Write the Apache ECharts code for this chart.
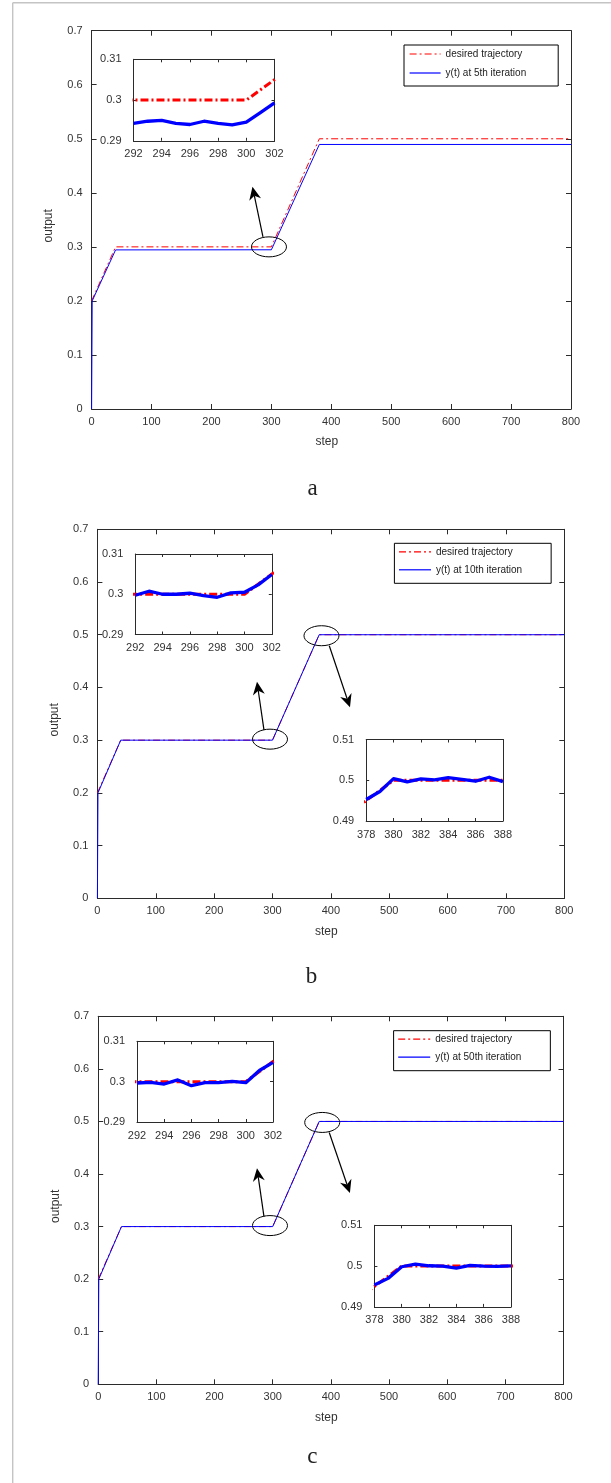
<!DOCTYPE html>
<html><head><meta charset="utf-8">
<script src="https://cdn.jsdelivr.net/npm/echarts@6/dist/echarts.min.js"></script>
<style>html,body{margin:0;padding:0;background:#fff}#c{width:611px;height:1483px}</style>
</head><body><div id="c"></div>
<script>
// ---------------- data ----------------
const desiredSteps  = [0, 40, 300, 380, 800];
const desiredValues = [0.2, 0.3, 0.3, 0.5, 0.5];

const iter5Steps  = [0, 1, 40, 300, 380, 800];
const iter5Values = [0, 0.2, 0.2944, 0.2946, 0.4895, 0.4895];
const iter10Steps  = [0, 1, 40, 300, 380, 800];
const iter10Values = [0, 0.2, 0.3, 0.3, 0.5, 0.5];
const iter50Steps  = [0, 1, 40, 300, 380, 800];
const iter50Values = [0, 0.2, 0.3, 0.3, 0.5, 0.5];

const zoomSteps300 = [292, 293, 294, 295, 296, 297, 298, 299, 300, 301, 302];
const zoomSteps380 = [378, 379, 380, 381, 382, 383, 384, 385, 386, 387, 388];
const iter5Zoom300  = [0.2943, 0.2948, 0.2950, 0.2943, 0.2940, 0.2948, 0.2943, 0.2939, 0.2946, 0.2969, 0.2993];
const iter10Zoom300 = [0.29975, 0.30075, 0.3000, 0.3000, 0.30025, 0.29967, 0.29925, 0.30033, 0.3005, 0.30232, 0.3049];
const iter10Zoom380 = [0.49528, 0.49724, 0.50041, 0.49959, 0.50033, 0.50008, 0.50065, 0.50024, 0.49976, 0.50073, 0.49967];
const iter50Zoom300 = [0.29967, 0.29983, 0.29941, 0.30042, 0.2990, 0.29975, 0.29975, 0.30008, 0.29975, 0.30276, 0.30477];
const iter50Zoom380 = [0.49537, 0.49699, 0.49984, 0.50049, 0.50008, 0.5000, 0.49951, 0.50016, 0.5000, 0.49992, 0.50008];

const legendNames = ['desired trajectory', 'y(t) at 5th iteration', 'y(t) at 10th iteration', 'y(t) at 50th iteration'];
const captions = ['a', 'b', 'c'];

// ---------------- helpers ----------------
const FONT = '"Liberation Sans", Arial, sans-serif';
const AX = '#2b2b2b';
const RED = '#ff0000', BLUE = '#0000ff';
const pairs = (xs, ys) => xs.map((x, i) => [x, ys[i]]);

const grids = [], xAxes = [], yAxes = [], series = [];

function addGrid(rect, xr, yr, o) {
  const gi = grids.length;
  grids.push({left: rect[0], top: rect[1], width: rect[2], height: rect[3],
              show: true, backgroundColor: '#fff', borderWidth: 0});
  const ls = {color: AX, width: 1};
  const tick = {show: true, inside: true, length: o.tick, lineStyle: ls};
  const lab = {fontSize: 11, color: '#333', fontFamily: FONT};
  const xi = xAxes.length, yi = yAxes.length;
  xAxes.push({gridIndex: gi, type: 'value', position: 'bottom', min: xr[0], max: xr[1], interval: xr[2],
    axisLine: {show: true, onZero: false, lineStyle: ls}, axisTick: tick, splitLine: {show: false},
    axisLabel: Object.assign({margin: o.xm}, lab),
    name: o.xname || '', nameLocation: 'middle', nameGap: 27,
    nameTextStyle: {fontSize: 12, color: '#333', fontFamily: FONT, padding: [0, 9, 0, 0]}});
  xAxes.push({gridIndex: gi, type: 'value', position: 'top', min: xr[0], max: xr[1], interval: xr[2],
    axisLine: {show: true, onZero: false, lineStyle: ls}, axisTick: tick, splitLine: {show: false},
    axisLabel: {show: false}});
  yAxes.push({gridIndex: gi, type: 'value', position: 'left', min: yr[0], max: yr[1], interval: yr[2],
    axisLine: {show: true, onZero: false, lineStyle: ls}, axisTick: tick, splitLine: {show: false},
    axisLabel: Object.assign({margin: o.ym}, lab),
    name: o.yname || '', nameLocation: 'middle', nameGap: 37,
    nameTextStyle: {fontSize: 12, color: '#333', fontFamily: FONT, padding: [0, 12, 0, 0]}});
  yAxes.push({gridIndex: gi, type: 'value', position: 'right', min: yr[0], max: yr[1], interval: yr[2],
    axisLine: {show: true, onZero: false, lineStyle: ls}, axisTick: tick, splitLine: {show: false},
    axisLabel: {show: false}});
  return {xi, yi};
}

function line(name, ax, data, color, width, dash, z) {
  series.push({type: 'line', name, xAxisIndex: ax.xi, yAxisIndex: ax.yi, data,
    symbol: 'none', showSymbol: false, clip: true, animation: false, z: z,
    lineStyle: {color, width, type: dash || 'solid', cap: 'butt', join: 'round'},
    itemStyle: {color}});
}

const mainOpt = {tick: 5, xm: 7, ym: 9, xname: 'step', yname: 'output'};
const insetOpt = {tick: 3, xm: 8, ym: 12};

// panel a
const aMain = addGrid([91.6, 30.7, 479.4, 378.3], [0, 800, 100], [0, 0.7, 0.1], mainOpt);
const aIn1  = addGrid([133.5, 59.3, 141, 81.5], [292, 302, 2], [0.29, 0.31, 0.01], insetOpt);
// panel b
const bMain = addGrid([97.4, 529.3, 466.9, 369], [0, 800, 100], [0, 0.7, 0.1], mainOpt);
const bIn1  = addGrid([135.3, 554, 136.5, 80.5], [292, 302, 2], [0.29, 0.31, 0.01], insetOpt);
const bIn2  = addGrid([366.2, 739.5, 136.7, 81.5], [378, 388, 2], [0.49, 0.51, 0.01], insetOpt);
// panel c
const cMain = addGrid([98.2, 1016.3, 465.3, 368], [0, 800, 100], [0, 0.7, 0.1], mainOpt);
const cIn1  = addGrid([137, 1041.3, 136, 80.7], [292, 302, 2], [0.29, 0.31, 0.01], insetOpt);
const cIn2  = addGrid([374.4, 1225.3, 136.6, 81.6], [378, 388, 2], [0.49, 0.51, 0.01], insetOpt);

const DD_MAIN = [7, 3, 2, 3];
const DD_IN = [8, 3, 2, 3];
const desired = pairs(desiredSteps, desiredValues);

// main series first (legend picks first matching series)
line(legendNames[0], aMain, desired, RED, 1, DD_MAIN, 2);
line(legendNames[1], aMain, pairs(iter5Steps, iter5Values), BLUE, 1, null, 3);
line(legendNames[0], bMain, desired, RED, 1, DD_MAIN, 2);
line(legendNames[2], bMain, pairs(iter10Steps, iter10Values), BLUE, 1, null, 3);
line(legendNames[0], cMain, desired, RED, 1, DD_MAIN, 2);
line(legendNames[3], cMain, pairs(iter50Steps, iter50Values), BLUE, 1, null, 3);
// insets
line('zoom a desired', aIn1, desired, RED, 3, DD_IN, 4);
line('zoom a y', aIn1, pairs(zoomSteps300, iter5Zoom300), BLUE, 3.3, null, 5);
line('zoom b1 desired', bIn1, desired, RED, 3, DD_IN, 4);
line('zoom b1 y', bIn1, pairs(zoomSteps300, iter10Zoom300), BLUE, 3.3, null, 5);
line('zoom b2 desired', bIn2, desired, RED, 3, DD_IN, 4);
line('zoom b2 y', bIn2, pairs(zoomSteps380, iter10Zoom380), BLUE, 3.3, null, 5);
line('zoom c1 desired', cIn1, desired, RED, 3, DD_IN, 4);
line('zoom c1 y', cIn1, pairs(zoomSteps300, iter50Zoom300), BLUE, 3.3, null, 5);
line('zoom c2 desired', cIn2, desired, RED, 3, DD_IN, 4);
line('zoom c2 y', cIn2, pairs(zoomSteps380, iter50Zoom380), BLUE, 3.3, null, 5);

function legend(names, left, top, padding, iw, gap) {
  return {data: names, orient: 'vertical', left, top, padding, itemWidth: iw, itemHeight: 10, itemGap: gap,
    borderColor: '#000', borderWidth: 1, backgroundColor: '#fff', selectedMode: false,
    itemStyle: {color: 'rgba(0,0,0,0)', borderColor: 'rgba(0,0,0,0)', borderWidth: 0, opacity: 0},
    lineStyle: {width: 1.2},
    textStyle: {fontSize: 10, color: '#222', fontFamily: FONT}};
}

const chart = echarts.init(document.getElementById('c'), null, {renderer: 'canvas'});
chart.setOption({
  animation: false,
  backgroundColor: '#fff',
  grid: grids, xAxis: xAxes, yAxis: yAxes, series,
  legend: [
    legend([legendNames[0], legendNames[1]], 404, 45, [4, 32, 8, 5], 31, 9),
    legend([legendNames[0], legendNames[2]], 394.4, 543.3, [3.5, 29, 8.5, 4], 32, 8),
    legend([legendNames[0], legendNames[3]], 393.6, 1030.7, [3.5, 29, 8.5, 4], 32, 8)
  ]
});

// ------------- annotations anchored to data points -------------
const callouts = [
  {ax: aMain, at: [300, 0.3], d: [-2.4, 0],  from: [-6, -10], to: [-16.5, -60]},
  {ax: bMain, at: [300, 0.3], d: [-2.5, -1], from: [-6, -9],  to: [-13, -57.3]},
  {ax: bMain, at: [380, 0.5], d: [2.3, 1],   from: [7.8, 10], to: [28.5, 71.6]},
  {ax: cMain, at: [300, 0.3], d: [-2.7, -1], from: [-6, -9],  to: [-13, -57.4]},
  {ax: cMain, at: [380, 0.5], d: [3, 1],     from: [7, 10],   to: [27.7, 70.6]}
];
const gfx = [];
// page frame lines
gfx.push({type: 'line', shape: {x1: 12.7, y1: 2.7, x2: 12.7, y2: 1483}, style: {stroke: '#c4c4c4', lineWidth: 1.4}, z: 1});
gfx.push({type: 'line', shape: {x1: 12.7, y1: 2.7, x2: 611, y2: 2.7}, style: {stroke: '#c4c4c4', lineWidth: 1.4}, z: 1});

callouts.forEach(c => {
  const p = chart.convertToPixel({xAxisIndex: c.ax.xi, yAxisIndex: c.ax.yi}, c.at);
  const cx = p[0] + c.d[0], cy = p[1] + c.d[1];
  gfx.push({type: 'ellipse', shape: {cx, cy, rx: 17.5, ry: 10},
    style: {fill: 'none', stroke: '#000', lineWidth: 1}, z: 20});
  const x1 = cx + c.from[0], y1 = cy + c.from[1], x2 = cx + c.to[0], y2 = cy + c.to[1];
  const dx = x2 - x1, dy = y2 - y1, L = Math.hypot(dx, dy), ux = dx / L, uy = dy / L;
  const hl = 13, hw = 6, notch = 4;
  const bx = x2 - ux * hl, by = y2 - uy * hl;
  const nx = x2 - ux * (hl - notch), ny = y2 - uy * (hl - notch);
  gfx.push({type: 'line', shape: {x1, y1, x2: nx, y2: ny}, style: {stroke: '#000', lineWidth: 1.2}, z: 20});
  gfx.push({type: 'polygon', shape: {points: [[x2, y2], [bx - uy * hw, by + ux * hw], [nx, ny], [bx + uy * hw, by - ux * hw]]},
    style: {fill: '#000'}, z: 20});
});

// panel captions
[[312.5, 489], [311.5, 977], [312.3, 1457]].forEach((p, i) => {
  gfx.push({type: 'text', x: p[0], y: p[1], z: 20,
    style: {text: captions[i], font: '23px "Liberation Serif", "Times New Roman", serif', fill: '#222',
            textAlign: 'center', textVerticalAlign: 'middle'}});
});

chart.setOption({graphic: gfx});
</script>
</body></html>
